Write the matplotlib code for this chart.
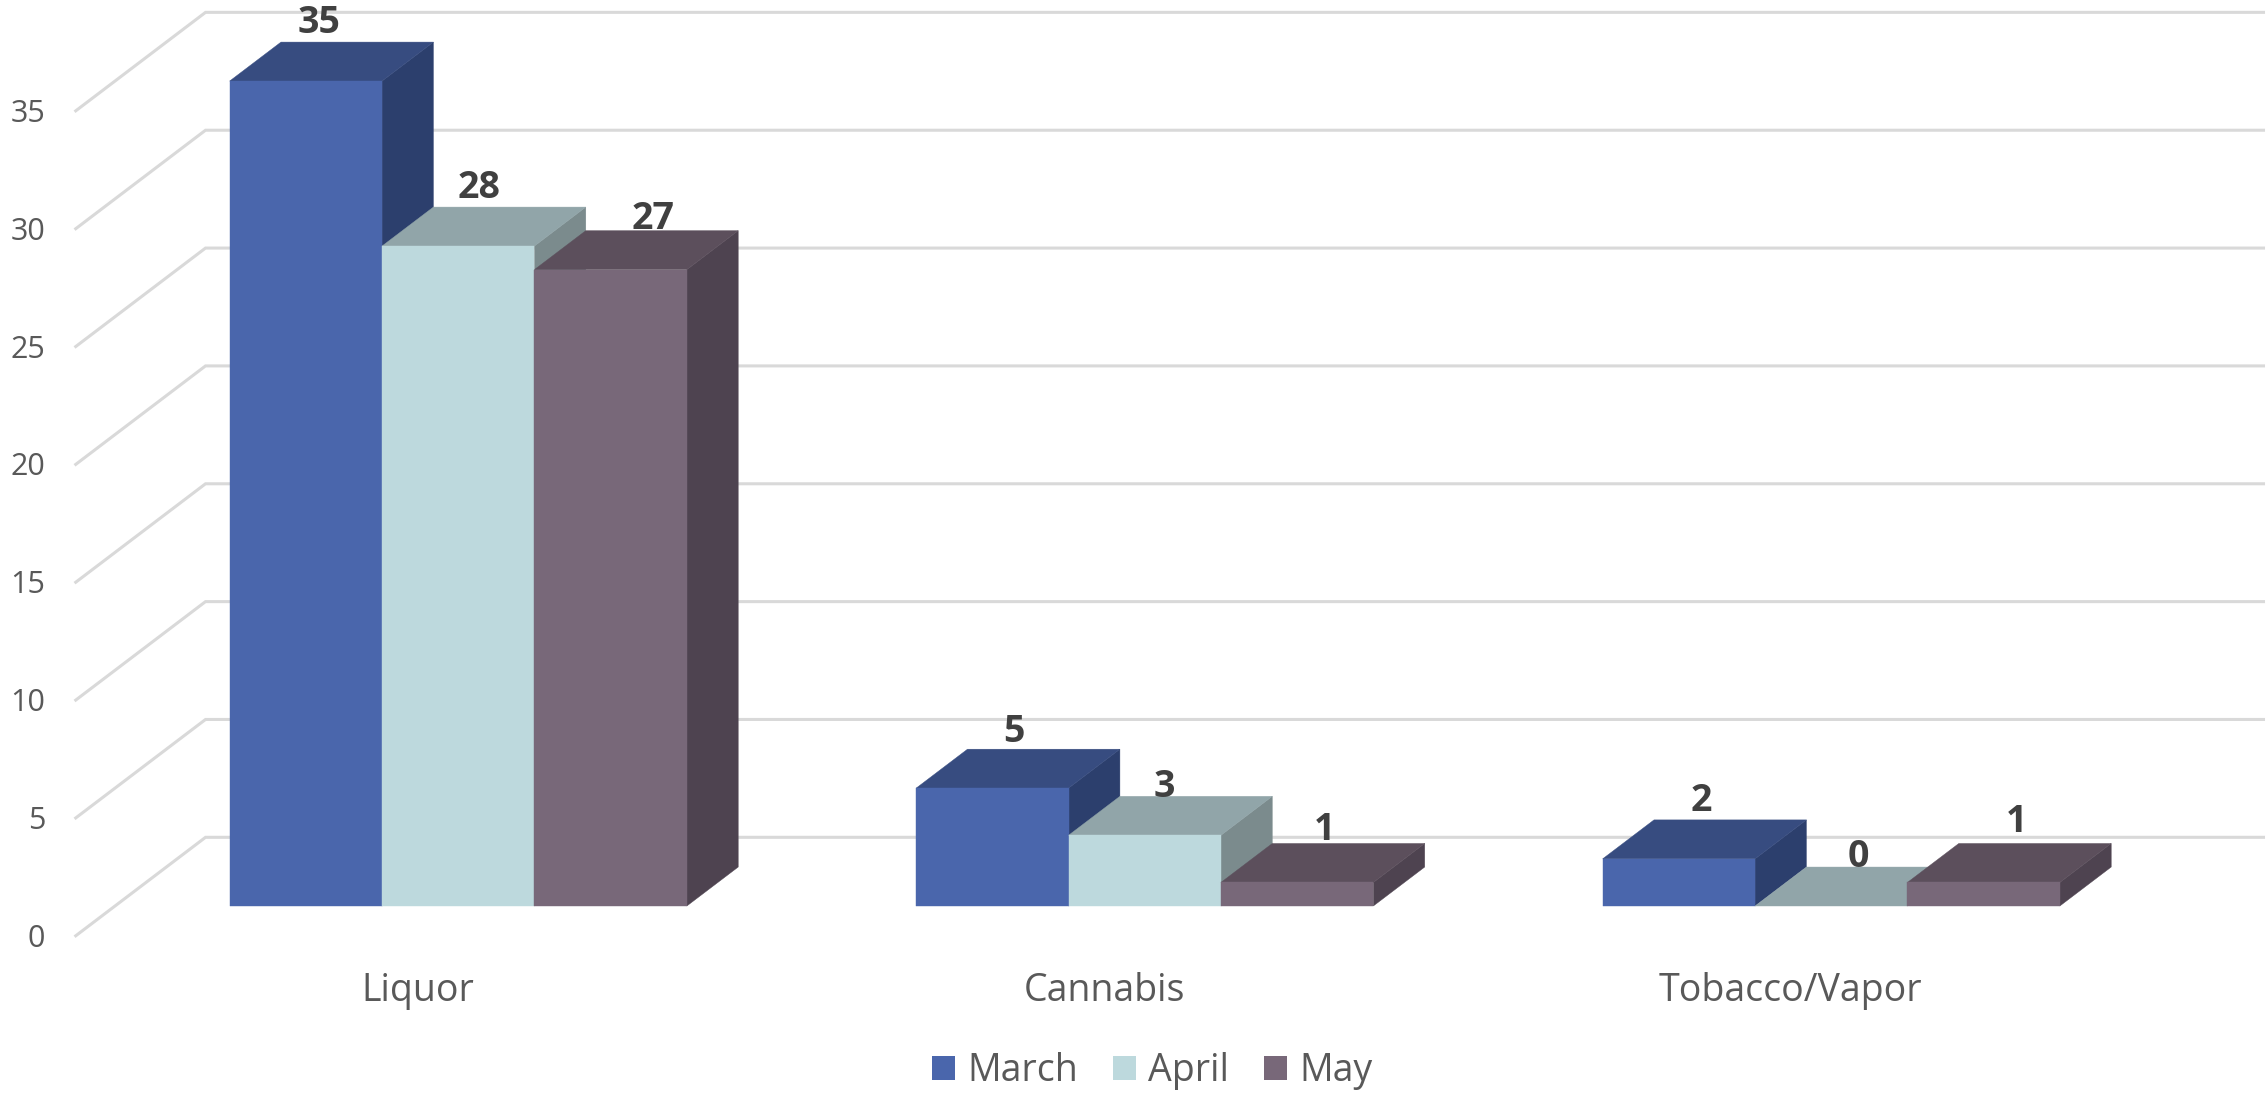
import matplotlib
matplotlib.use("Agg")
import matplotlib.pyplot as plt
from matplotlib.patches import Polygon, Patch

plt.rcParams['font.family'] = ['Open Sans', 'DejaVu Sans']

categories = ["Liquor", "Cannabis", "Tobacco/Vapor"]
series_names = ["March", "April", "May"]
march = [35, 5, 2]
april = [28, 3, 0]
may = [27, 1, 1]
y_ticks = [0, 5, 10, 15, 20, 25, 30, 35]

front_colors = ["#4A66AC", "#BDD9DD", "#786879"]
top_colors = ["#374C80", "#91A5A9", "#5C4F5C"]
side_colors = ["#2C3F6D", "#7B8B8D", "#4E4350"]

# label nudges in pixels, per series then category (x right, y up)
label_dx = [[13, 22, 22], [21, 20, 27], [42, 27, 33]]
label_dy = [[9, 7, 9], [9, -1, 0], [2, 3, 11]]

W, H = 2267, 1095
PX_X = 686.5     # pixels per category
PX_Y = 23.57     # pixels per value unit
X0 = 115.0       # pixel of category 0 in the plane of the bar fronts
Y0 = 906.0       # pixel of value 0 in the plane of the bar fronts
DEPTH_X = 131.0 / PX_X
DEPTH_Y = 99.4 / PX_Y
D_FRONT = 0.309
D_BACK = D_FRONT + 0.392
BAR_W = 152.4 / PX_X

fig = plt.figure(figsize=(W / 100, H / 100), dpi=100, facecolor="white")
ax = fig.add_axes([0, 0, 1, 1])
ax.set_xlim(-X0 / PX_X, (W - X0) / PX_X)
ax.set_ylim(-(H - Y0) / PX_Y, Y0 / PX_Y)
ax.axis("off")


def proj(x, v, d):
    """Oblique projection of (category x, value v, depth d) to axes data."""
    return (x + (d - D_FRONT) * DEPTH_X, v + (d - D_FRONT) * DEPTH_Y)


GRID = "#D9D9D9"
for v in y_ticks:
    a, b, c = proj(0, v, 0), proj(0, v, 1), proj(3, v, 1)
    ax.plot([a[0], b[0], c[0]], [a[1], b[1], c[1]], color=GRID, lw=2.2,
            solid_joinstyle="miter", solid_capstyle="butt", zorder=1)
    ax.annotate(str(v), xy=a, xytext=(-21, -1.5), textcoords="offset points",
                ha="right", va="center", fontsize=22, color="#595959", zorder=6)

z = 2
for c, cat in enumerate(categories):
    center = c + 0.5
    ax.annotate(cat, xy=proj(center, 0, 0), xytext=(0, -46),
                textcoords="offset points", ha="center", va="baseline",
                fontsize=27, color="#595959", zorder=6)
    for s, vals in enumerate([march, april, may]):
        v = vals[c]
        x0 = center + (s - 1.5) * BAR_W
        x1 = x0 + BAR_W
        if v > 0:
            side = [proj(x1, 0, D_FRONT), proj(x1, 0, D_BACK),
                    proj(x1, v, D_BACK), proj(x1, v, D_FRONT)]
            ax.add_patch(Polygon(side, fc=side_colors[s], ec=side_colors[s], lw=0.3, zorder=z))
        top = [proj(x0, v, D_FRONT), proj(x1, v, D_FRONT),
               proj(x1, v, D_BACK), proj(x0, v, D_BACK)]
        ax.add_patch(Polygon(top, fc=top_colors[s], ec=top_colors[s], lw=0.3, zorder=z))
        if v > 0:
            front = [proj(x0, 0, D_FRONT), proj(x1, 0, D_FRONT),
                     proj(x1, v, D_FRONT), proj(x0, v, D_FRONT)]
            ax.add_patch(Polygon(front, fc=front_colors[s], ec=front_colors[s], lw=0.3, zorder=z))
        z += 0.01
        ax.annotate(str(v), xy=proj((x0 + x1) / 2, v, D_BACK),
                    xytext=(label_dx[s][c] * 0.72 - (D_BACK - D_FRONT) * 131 * 0.72,
                            label_dy[s][c] * 0.72),
                    textcoords="offset points", ha="center", va="baseline",
                    fontsize=27, fontweight="bold", color="#404040", zorder=7)

handles = [Patch(fc=col, ec="none") for col in front_colors]
fig.legend(handles, series_names, ncol=3, loc="center",
           bbox_to_anchor=(1152 / W, 1 - 1071 / H), frameon=False,
           fontsize=27, labelcolor="#595959", handlelength=0.62, handleheight=0.62,
           handletextpad=0.33, columnspacing=0.92, borderpad=0, borderaxespad=0)

fig.savefig("out.png", dpi=100, facecolor="white")
